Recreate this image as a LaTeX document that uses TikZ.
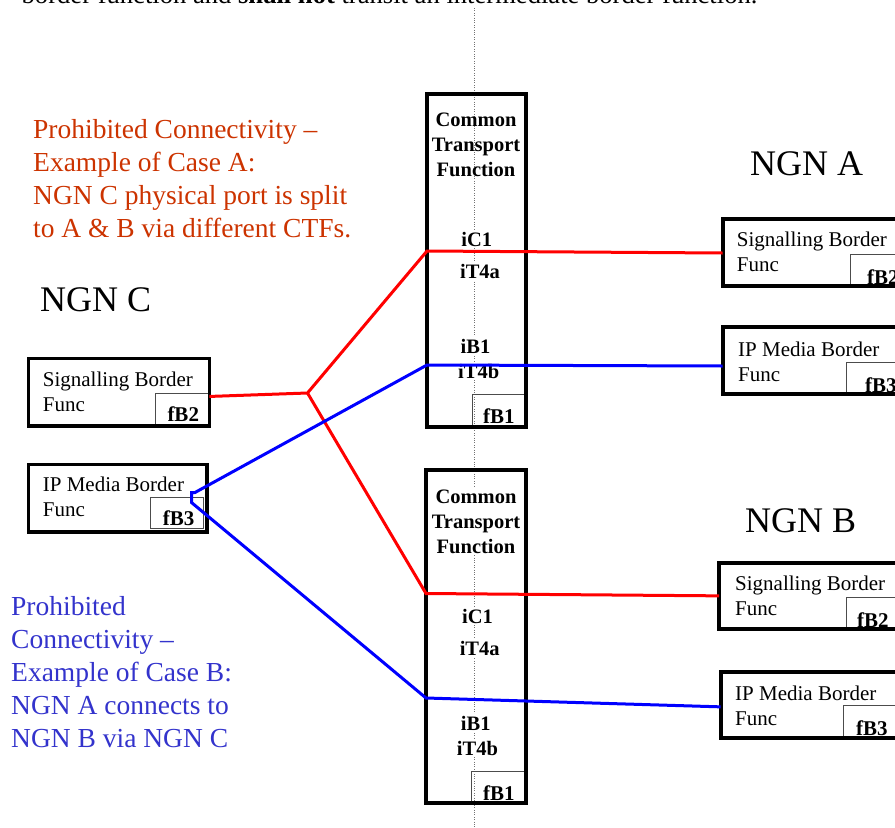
\documentclass[tikz,border=0pt]{standalone}
\usepackage{fontspec}
\setmainfont{Liberation Serif}
\definecolor{notered}{RGB}{204,51,0}
\definecolor{noteblue}{RGB}{51,51,204}
\begin{document}
\begin{tikzpicture}[x=1pt,y=-1pt,
  frame/.style={draw=black, line width=3.6pt, inner sep=0pt, outer sep=0pt, anchor=north west},
  tagbox/.style={draw=black!70, line width=0.9pt, inner sep=0pt, outer sep=0pt, anchor=north west},
  boxtext/.style={anchor=base west, inner sep=0pt, align=left, font=\fontsize{21}{25}\selectfont},
  tagtext/.style={anchor=base west, inner sep=0pt, font=\fontsize{21}{24}\selectfont\bfseries},
  ctftext/.style={anchor=base, inner sep=0pt, align=center, font=\fontsize{20.5}{25}\selectfont\bfseries},
  iflabel/.style={anchor=base, inner sep=1.5pt, fill=white, font=\fontsize{20.5}{25}\selectfont\bfseries},
  ngn/.style={anchor=base west, inner sep=0pt, font=\fontsize{36}{40}\selectfont},
  note/.style={anchor=base west, inner sep=0pt, align=left, font=\fontsize{27.5}{33}\selectfont},
  redlink/.style={draw=red, line width=3pt},
  bluelink/.style={draw=blue, line width=3pt},
  divider/.style={draw=black!55, line width=0.8pt, dash pattern=on 0.8pt off 1.6pt}
]
\useasboundingbox (0,0) rectangle (895,828);

% running text line above the figure
\node[anchor=base west, inner sep=0pt, font=\fontsize{26.6}{30}\selectfont] (caption) at (21.5,3.5)
  {border function and \textbf{shall not} transit an intermediate border function.};

% vertical domain divider
\coordinate (divtop) at (474,8);
\coordinate (divbot) at (474,828);
\draw[divider] (divtop) -- (divbot);

% explanatory notes (multi-line nodes sit on the baseline of their last line)
\node[note, text=notered] (noteA) at (33,237)
  {Prohibited Connectivity --\\Example of Case A:\\NGN C physical port is split\\to A \& B via different CTFs.};
\node[note, text=noteblue] (noteB) at (11,747)
  {Prohibited\\Connectivity --\\Example of Case B:\\NGN A connects to\\NGN B via NGN C};

% network names
\node[ngn] (ngnC) at (40,311) {NGN C};
\node[ngn] (ngnA) at (750,175) {NGN A};
\node[ngn] (ngnB) at (745,532) {NGN B};

% tag boxes (drawn under the outer frames)
\node[tagbox, minimum width=53.6pt, minimum height=32.7pt] (tagSC) at (155.7,393.3) {};
\node[tagbox, minimum width=53.3pt, minimum height=30.3pt] (tagMC) at (150,497.7) {};
\node[tagbox, minimum width=65pt, minimum height=32pt] (tagSA) at (850,254) {};
\node[tagbox, minimum width=68pt, minimum height=31.3pt] (tagMA) at (846.7,362.7) {};
\node[tagbox, minimum width=68pt, minimum height=31.3pt] (tagSB) at (846.7,597.7) {};
\node[tagbox, minimum width=72pt, minimum height=32.3pt] (tagMB) at (843,705.7) {};
\node[tagbox, minimum width=53.7pt, minimum height=33pt] (tagT1) at (472.3,394) {};
\node[tagbox, minimum width=55pt, minimum height=32pt] (tagT2) at (471,771) {};

% common transport functions
\node[frame, minimum width=99pt, minimum height=333pt] (ctf1) at (427,94) {};
\node[frame, minimum width=100pt, minimum height=333pt] (ctf2) at (426,470) {};

% border function boxes
\node[frame, minimum width=181pt, minimum height=67.7pt] (sC) at (28.3,358.3) {};
\node[frame, minimum width=178.4pt, minimum height=67.4pt] (mC) at (28.3,464.3) {};
\node[frame, minimum width=192pt, minimum height=67pt] (sA) at (722.7,219) {};
\node[frame, minimum width=192pt, minimum height=67pt] (mA) at (722.7,327) {};
\node[frame, minimum width=196pt, minimum height=66.3pt] (sB) at (719,562.7) {};
\node[frame, minimum width=194pt, minimum height=66.3pt] (mB) at (720.7,671.7) {};

% box texts
\node[boxtext] (sCt) at (42.7,411) {Signalling Border\\Func};
\node[boxtext] (mCt) at (42.7,516.7) {IP Media Border\\Func};
\node[boxtext] (sAt) at (736.7,271.7) {Signalling Border\\Func};
\node[boxtext] (mAt) at (738,381.7) {IP Media Border\\Func};
\node[boxtext] (sBt) at (735,615.7) {Signalling Border\\Func};
\node[boxtext] (mBt) at (735,725) {IP Media Border\\Func};

% tag texts
\node[tagtext] (fSC) at (167.3,421.7) {fB2};
\node[tagtext] (fMC) at (162.7,525.7) {fB3};
\node[tagtext] (fSA) at (867,284) {fB2};
\node[tagtext] (fMA) at (865,392) {fB3};
\node[tagtext] (fSB) at (857,627) {fB2};
\node[tagtext] (fMB) at (856,735) {fB3};
\node[tagtext] (fT1) at (483,423) {fB1};
\node[tagtext] (fT2) at (483,800) {fB1};

% CTF contents
\node[ctftext] (title1) at (476,176.7) {Common\\Transport\\Function};
\node[ctftext, fill=white, inner sep=1.5pt] (title2) at (476,553) {Common\\Transport\\Function};
\node[iflabel] (c1a) at (476.7,246.7) {iC1};
\node[iflabel] (c1b) at (480,278) {iT4a};
\node[iflabel] (c1c) at (475.5,353) {iB1};
\node[iflabel] (c1d) at (478.7,378) {iT4b};
\node[iflabel] (c2a) at (477.5,623) {iC1};
\node[iflabel] (c2b) at (479.7,655) {iT4a};
\node[iflabel] (c2c) at (475.8,730) {iB1};
\node[iflabel] (c2d) at (477.5,755) {iT4b};

% connection points on the NGN C side
\coordinate (J) at (307.5,393);
\coordinate (hookA) at (195,492.5);
\coordinate (hookB) at (191.5,492.5);
\coordinate (hookC) at (191.5,502.5);

% case A: signalling split over both CTFs
\draw[redlink] ([yshift=-4.3pt]sC.east) -- (J) -- ([yshift=9.5pt]ctf1.west) -- ([yshift=-0.5pt]sA.west);
\draw[redlink] (J) -- ([yshift=43pt]ctf2.west) -- (sB.west);

% case B: media transit through NGN C
\draw[bluelink] ([yshift=-5.5pt]mA.west) -- ([yshift=-104.5pt]ctf1.west) -- (hookA) -- (hookB) -- (hookC)
  -- ([yshift=-61.5pt]ctf2.west) -- ([yshift=-2pt]mB.west);
\end{tikzpicture}
\end{document}
